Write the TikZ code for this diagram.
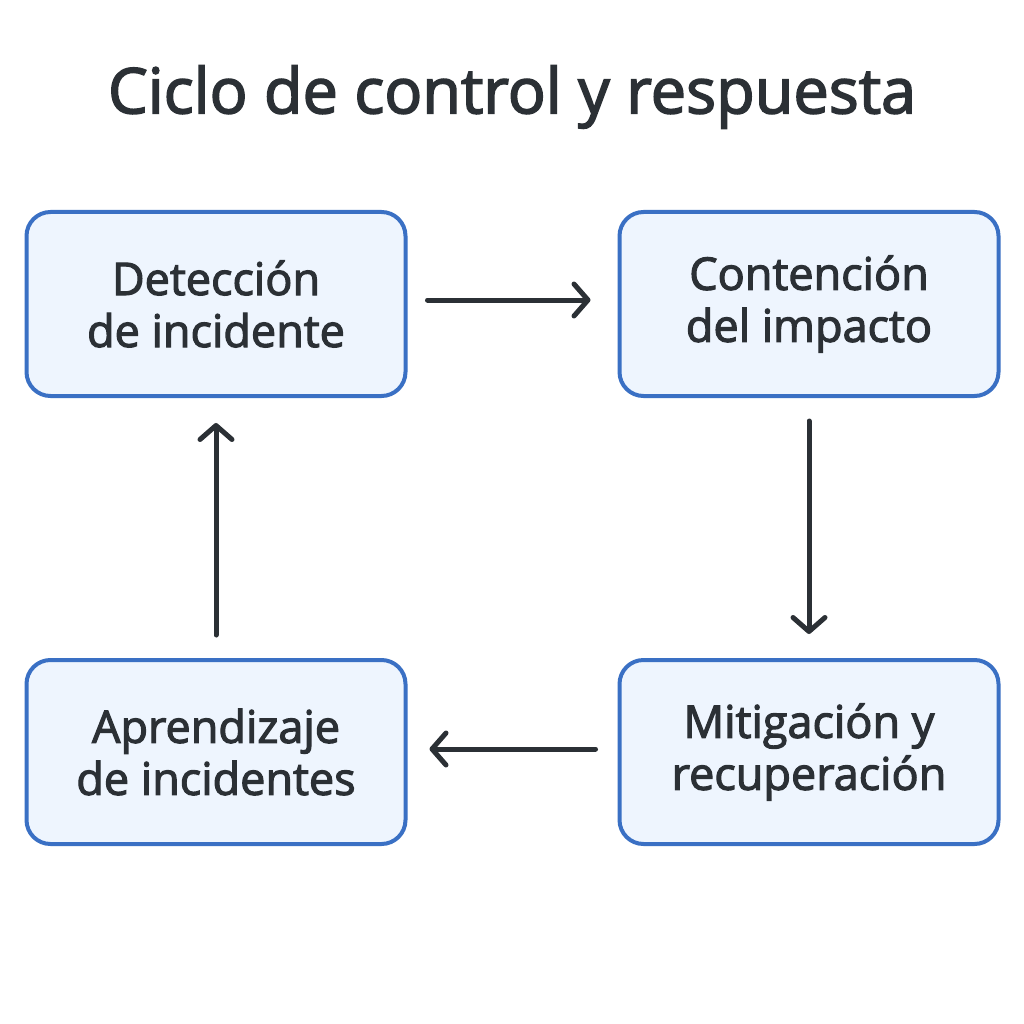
\documentclass[tikz,border=0pt]{standalone}
\usepackage{fontspec}
\setmainfont{Open Sans}
\newfontfamily\medfont{Open Sans}[FakeBold=2.5]
\usetikzlibrary{arrows.meta}
\definecolor{boxfill}{HTML}{EEF5FE}
\definecolor{boxline}{HTML}{3A70C4}
\definecolor{txt}{HTML}{2B3035}
\tikzset{
  stagebox/.style={draw=boxline, line width=4pt, fill=boxfill, rounded corners=24pt,
    minimum width=379pt, minimum height=184pt, inner sep=0pt, align=center,
    text=txt, font=\medfont\fontsize{45}{52}\selectfont},
  flow/.style={draw=txt, line width=5pt, line cap=round,
    -{Straight Barb[length=14pt, width=32pt, line cap=round, line join=round]}}
}
\begin{document}
\begin{tikzpicture}[x=1pt,y=-1pt]
\useasboundingbox (0,0) rectangle (1024,1024);
\fill[white] (0,0) rectangle (1024,1024);
\node[text=txt, font=\medfont\fontsize{63}{66}\selectfont] (title) at (512,97) {Ciclo de control y respuesta};
\node[stagebox] (det) at (216,304) {Detección\\de incidente};
\node[stagebox] (con) at (809,304) {Contención\\del impacto};
\node[stagebox] (mit) at (809,752) {Mitigación y\\recuperación};
\node[stagebox] (apr) at (216,752) {Aprendizaje\\de incidentes};
\draw[flow] ([xshift=20pt]det.east |- 0,300) -- ([xshift=-27pt]con.west |- 0,300);
\draw[flow] ([yshift=-23pt]con.south) -- ([yshift=24pt]mit.north);
\draw[flow] ([xshift=-22pt]mit.west |- 0,749) -- ([xshift=22pt]apr.east |- 0,749);
\draw[flow] ([yshift=23pt]apr.north) -- ([yshift=-25pt]det.south);
\end{tikzpicture}
\end{document}
